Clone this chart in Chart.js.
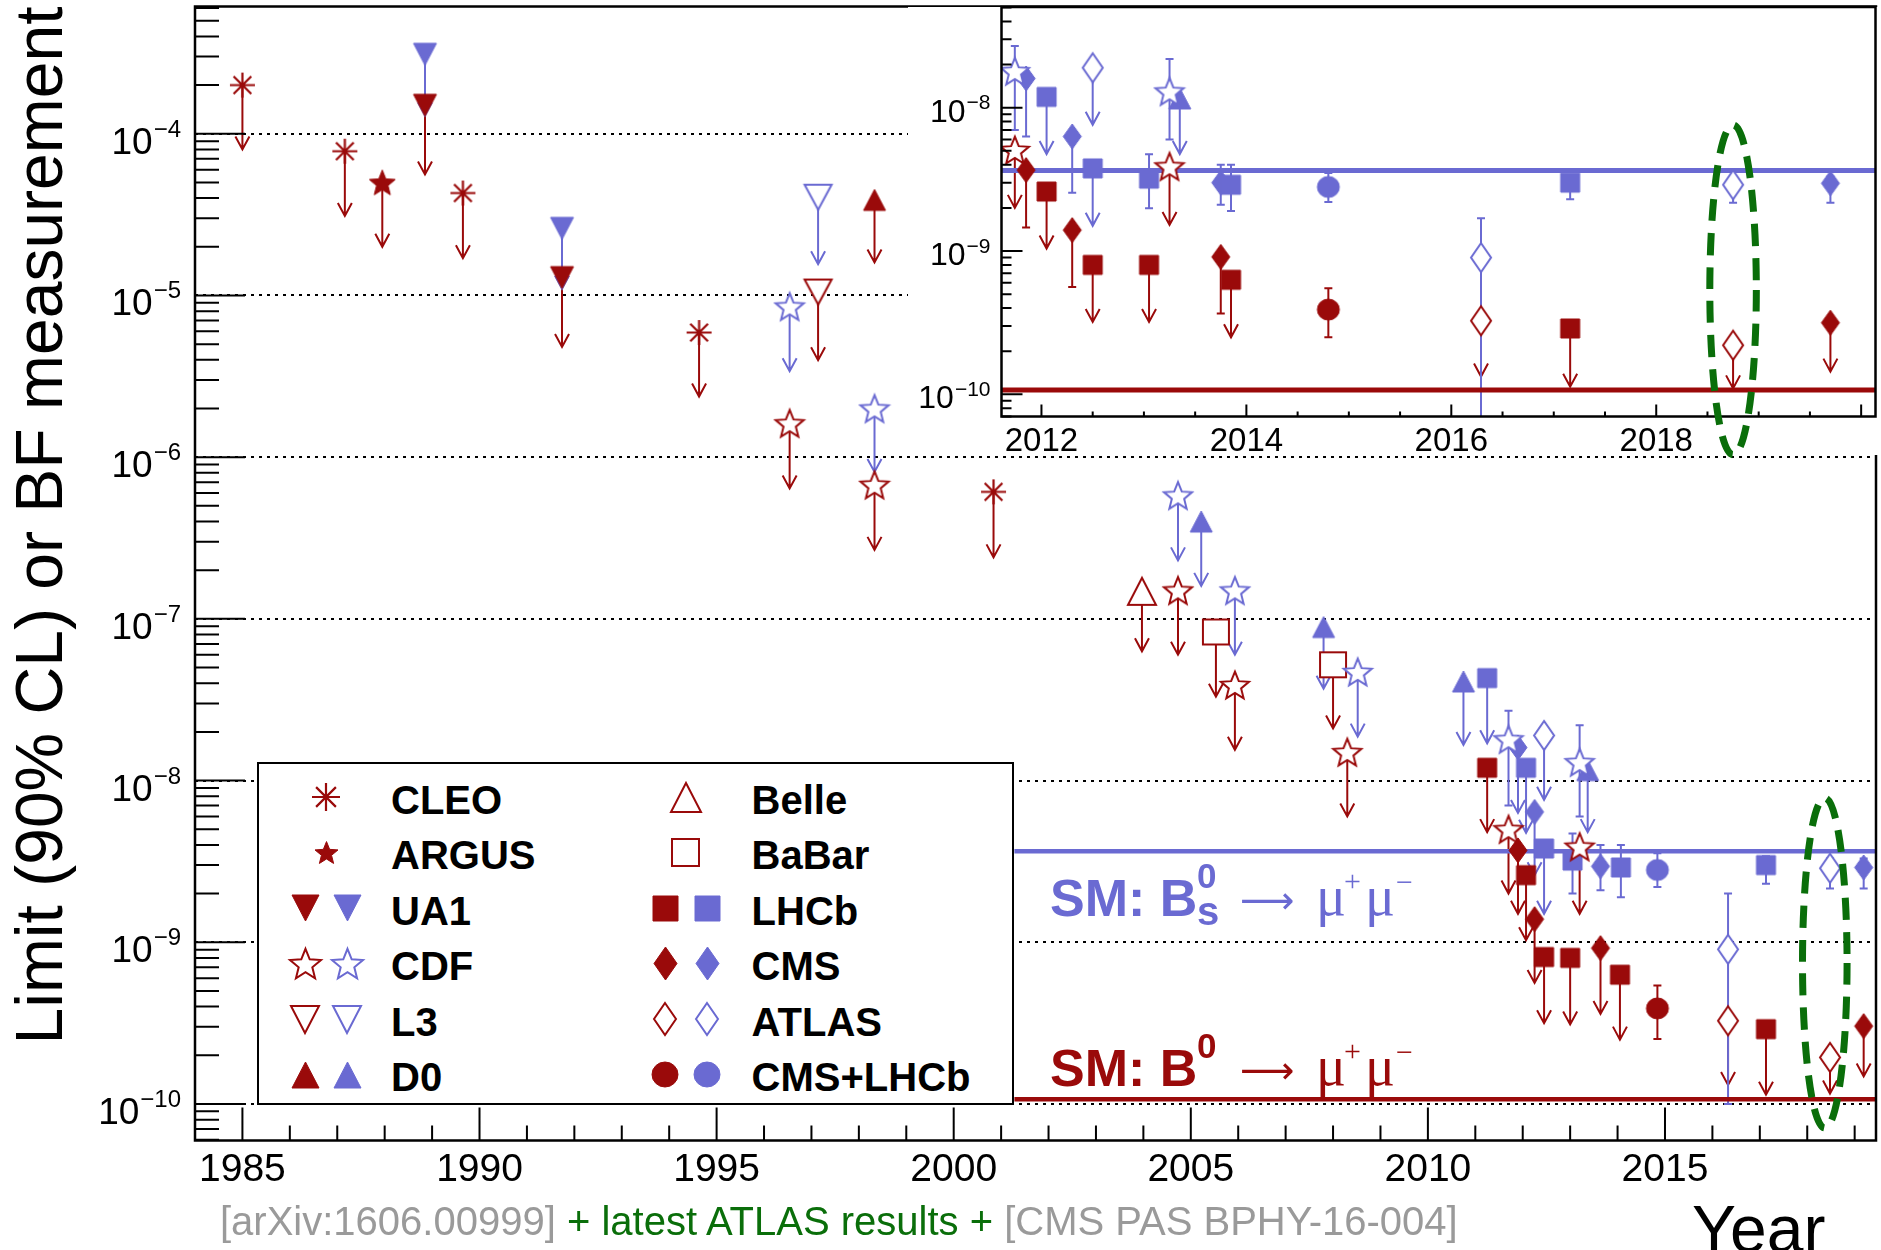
<!DOCTYPE html>
<html>
<head>
<meta charset="utf-8">
<title>B(s) to mu mu limits by year</title>
<script src="https://cdn.jsdelivr.net/npm/chart.js"></script>
<style>
  body { margin: 0; background: #fff; }
  #wrap { position: relative; width: 1881px; height: 1250px; overflow: hidden; background: #fff; }
  #wrap canvas { position: absolute; top: 0; }
  #main { left: 0; z-index: 0; }
  #inset { left: 908px; z-index: 1; }
  #legend { position: absolute; left: 257px; top: 762px; width: 757px; height: 343px; box-sizing: border-box;
            border: 2px solid #000; background: #fff; z-index: 2; }
  .t { position: absolute; line-height: 1; white-space: nowrap; z-index: 3; }
  #wrap canvas.mk { z-index: 3; }
</style>
</head>
<body>
<div id="wrap">
  <canvas id="main" width="1881" height="1250"></canvas>
  <canvas id="inset" width="973" height="470"></canvas>
  <div id="legend"></div>
</div>
<script>
// ---- data ----
// limits: [year, limit, arrow end]   measurements: [year, value, low, high]
const yearTicks = [1985, 1990, 1995, 2000, 2005, 2010, 2015];
const decadeTicks = [1e-10, 1e-9, 1e-8, 1e-7, 1e-6, 1e-5, 1e-4];
const smBs = 3.65e-9;
const smB0 = 1.07e-10;

const cleoB0 = [[1985.0, 2.0e-4, 8.0e-5], [1987.16, 7.8e-5, 3.1e-5], [1989.65, 4.3e-5, 1.7e-5],
                [1994.63, 5.9e-6, 2.37e-6], [2000.84, 6.1e-7, 2.4e-7]];
const argusB0 = [[1987.95, 5.0e-5, 2.0e-5]];
const ua1Bs = [[1988.85, 3.1e-4, 1.3e-4], [1991.74, 2.6e-5, 1.1e-5]];
const ua1B0 = [[1988.85, 1.5e-4, 5.6e-5], [1991.74, 1.29e-5, 4.8e-6]];
const cdfBs = [[1996.54, 8.55e-6, 3.4e-6], [1998.33, 2.0e-6, 8.1e-7], [2004.73, 5.8e-7, 2.3e-7],
               [2005.93, 1.5e-7, 6.0e-8], [2008.52, 4.7e-8, 1.87e-8],
               [2011.7, 1.8e-8, 7.0e-9, 2.7e-8], [2013.2, 1.3e-8, 6.0e-9, 2.2e-8]];
const cdfB0 = [[1996.54, 1.62e-6, 6.4e-7], [1998.33, 6.75e-7, 2.67e-7], [2004.73, 1.5e-7, 6.0e-8],
               [2005.93, 3.9e-8, 1.55e-8], [2008.3, 1.5e-8, 6.0e-9], [2011.7, 5.0e-9, 2.0e-9],
               [2013.2, 3.9e-9, 1.5e-9]];
const l3Bs = [[1997.14, 4.05e-5, 1.56e-5]];
const l3B0 = [[1997.14, 1.05e-5, 3.98e-6]];
const d0Bs = [[2005.22, 4.0e-7, 1.6e-7], [2007.8, 8.9e-8, 3.7e-8], [2010.75, 4.1e-8, 1.66e-8],
              [2013.37, 1.16e-8, 4.8e-9]];
const d0B0 = [[1998.33, 3.9e-5, 1.6e-5]];
const belleB0 = [[2003.97, 1.48e-7, 6.3e-8]];
const babarB0 = [[2005.53, 8.3e-8, 3.3e-8], [2008.0, 5.2e-8, 2.1e-8]];
const lhcbBs = [[2011.25, 4.3e-8, 1.7e-8], [2012.07, 1.2e-8, 4.75e-9], [2012.45, 3.8e-9, 1.5e-9],
                [2013.05, 3.2e-9, 2.0e-9, 4.7e-9], [2014.07, 2.9e-9, 1.9e-9, 4.0e-9],
                [2017.13, 3.0e-9, 2.3e-9, 3.4e-9]];
const lhcbB0 = [[2011.25, 1.2e-8, 4.8e-9], [2012.07, 2.6e-9, 1.03e-9], [2012.45, 8.1e-10, 3.16e-10],
                [2013.0, 8.0e-10, 3.1e-10], [2014.05, 6.3e-10, 2.5e-10], [2017.13, 2.9e-10, 1.14e-10]];
const cmsBs = [[2011.9, 1.6e-8, 6.3e-9], [2012.25, 6.4e-9, 2.6e-9], [2013.64, 2.95e-9, 2.1e-9, 4.0e-9],
               [2019.19, 2.9e-9, 2.15e-9, 3.3e-9]];
const cmsB0 = [[2011.9, 3.7e-9, 1.5e-9], [2012.25, 1.39e-9, 5.6e-10], [2013.64, 9.2e-10, 3.6e-10],
               [2019.19, 3.03e-10, 1.48e-10]];
const atlasBs = [[2012.45, 1.9e-8, 7.6e-9], [2016.33, 9.05e-10, 1.0e-10, 2.0e-9],
                 [2018.48, 2.87e-9, 2.15e-9, 3.3e-9]];
const atlasB0 = [[2016.33, 3.27e-10, 1.31e-10], [2018.48, 1.94e-10, 1.16e-10]];
const comboBs = [[2014.84, 2.8e-9, 2.2e-9, 3.55e-9]];
const comboB0 = [[2014.84, 3.9e-10, 2.52e-10, 5.4e-10]];
// latest-results ellipse: [year, half width (years), top, bottom]
const mainRing = [2018.37, 0.47, 7.8e-9, 7.1e-11];

// inset (2012 onwards)
const insetYearTicks = [2012, 2014, 2016, 2018];
const insetDecades = [1e-10, 1e-9, 1e-8];
const insCdfBs = [[2011.74, 1.8e-8, 7.0e-9, 2.7e-8], [2013.25, 1.3e-8, 6.0e-9, 2.19e-8]];
const insCdfB0 = [[2011.74, 5.07e-9, 2.0e-9], [2013.25, 3.9e-9, 1.52e-9]];
const insCmsBs = [[2011.85, 1.6e-8, 6.3e-9, 1.6e-8], [2012.3, 6.3e-9, 2.55e-9, 6.3e-9],
                  [2013.75, 3.0e-9, 2.1e-9, 4.0e-9], [2019.7, 2.97e-9, 2.17e-9, 3.3e-9]];
const insCmsB0 = [[2011.85, 3.67e-9, 1.46e-9, 3.67e-9], [2012.3, 1.4e-9, 5.6e-10, 1.4e-9],
                  [2013.75, 9.1e-10, 3.67e-10, 9.1e-10], [2019.7, 3.16e-10, 1.44e-10]];
const insLhcbBs = [[2012.05, 1.19e-8, 4.75e-9], [2012.5, 3.77e-9, 1.5e-9], [2013.05, 3.2e-9, 1.99e-9, 4.73e-9],
                   [2013.85, 2.9e-9, 1.9e-9, 4.0e-9], [2017.16, 3.0e-9, 2.3e-9, 3.3e-9]];
const insLhcbB0 = [[2012.05, 2.6e-9, 1.04e-9], [2012.5, 8.0e-10, 3.2e-10], [2013.05, 8.0e-10, 3.2e-10],
                   [2013.85, 6.3e-10, 2.5e-10], [2017.16, 2.88e-10, 1.13e-10]];
const insAtlasBs = [[2012.5, 1.9e-8, 7.6e-9], [2016.29, 9.0e-10, 5.0e-11, 1.69e-9], [2018.75, 2.9e-9, 2.17e-9, 3.3e-9]];
const insAtlasB0 = [[2016.29, 3.26e-10, 1.33e-10], [2018.75, 2.2e-10, 1.1e-10]];
const insD0Bs = [[2013.35, 1.16e-8, 4.75e-9]];
const insComboBs = [[2014.8, 2.8e-9, 2.2e-9, 3.5e-9]];
const insComboB0 = [[2014.8, 3.9e-10, 2.5e-10, 5.5e-10]];
const insetRing = [2018.75, 0.227, 7.57e-9, 3.78e-11];

const legendLeft = ['CLEO', 'ARGUS', 'UA1', 'CDF', 'L3', 'D0'];
const legendRight = ['Belle', 'BaBar', 'LHCb', 'CMS', 'ATLAS', 'CMS+LHCb'];

// ---- styles ----
const RED = '#9a0a0a', BLUE = '#6a6ad2', GREEN = '#0a6e0a', GREY = '#9a9a9a';
const SANS = "'Liberation Sans', Arial, Helvetica, sans-serif";
const SERIF = "'Liberation Serif', 'Times New Roman', serif";
const ARROWFONT = "'DejaVu Sans', sans-serif";
Chart.defaults.font.family = SANS;
Chart.defaults.color = '#000';

const MK = {
  asterisk: { shape: 'asterisk', w: 25, h: 25 },
  starFill: { shape: 'star', w: 26, h: 26 },
  starOpen: { shape: 'star', w: 28, h: 28, open: true },
  triDown: { shape: 'triDown', w: 23, h: 22 },
  triDownOpen: { shape: 'triDown', w: 27, h: 25, open: true },
  triUp: { shape: 'triUp', w: 22, h: 21 },
  triUpOpen: { shape: 'triUp', w: 28, h: 27, open: true },
  square: { shape: 'square', w: 19, h: 19 },
  squareOpen: { shape: 'square', w: 26, h: 25, open: true },
  diamond: { shape: 'diamond', w: 18, h: 25 },
  diamondOpen: { shape: 'diamond', w: 20, h: 29, open: true },
  circle: { shape: 'circle', w: 22, h: 21 }
};
const LEG = {
  asterisk: { shape: 'asterisk', w: 28, h: 28 },
  starFill: { shape: 'star', w: 23, h: 23 },
  triDown: { shape: 'triDown', w: 27, h: 26 },
  starOpen: { shape: 'star', w: 31, h: 31, open: true },
  triDownOpen: { shape: 'triDown', w: 28, h: 27, open: true },
  triUp: { shape: 'triUp', w: 27, h: 26 },
  triUpOpen: { shape: 'triUp', w: 30, h: 29, open: true },
  squareOpen: { shape: 'square', w: 27, h: 27, open: true },
  square: { shape: 'square', w: 25, h: 25 },
  diamond: { shape: 'diamond', w: 23, h: 33 },
  diamondOpen: { shape: 'diamond', w: 22, h: 32, open: true },
  circle: { shape: 'circle', w: 26, h: 25 }
};

function makeMarker(mk, color) {
  const pad = 3;
  const c = document.createElement('canvas');
  c.width = Math.round(mk.w + 2 * pad);
  c.height = Math.round(mk.h + 2 * pad);
  const g = c.getContext('2d');
  const cx = c.width / 2, cy = c.height / 2, w = mk.w, h = mk.h;
  g.strokeStyle = color;
  g.fillStyle = mk.open ? '#fff' : color;
  g.lineWidth = mk.open ? 2 : 1;
  g.beginPath();
  if (mk.shape === 'asterisk') {
    g.lineWidth = 2.2;
    for (let i = 0; i < 4; i++) {
      const a = i * Math.PI / 4;
      g.moveTo(cx - w / 2 * Math.cos(a), cy - h / 2 * Math.sin(a));
      g.lineTo(cx + w / 2 * Math.cos(a), cy + h / 2 * Math.sin(a));
    }
    g.stroke();
    return c;
  }
  if (mk.shape === 'star') {
    const R = w / 1.902, r = R * 0.44;
    const oy = cy + (R - 0.809 * R) / 2;
    for (let i = 0; i < 10; i++) {
      const a = -Math.PI / 2 + i * Math.PI / 5;
      const rr = i % 2 ? r : R;
      g.lineTo(cx + rr * Math.cos(a), oy + rr * Math.sin(a));
    }
  } else if (mk.shape === 'triUp') {
    g.moveTo(cx, cy - h / 2); g.lineTo(cx + w / 2, cy + h / 2); g.lineTo(cx - w / 2, cy + h / 2);
  } else if (mk.shape === 'triDown') {
    g.moveTo(cx, cy + h / 2); g.lineTo(cx + w / 2, cy - h / 2); g.lineTo(cx - w / 2, cy - h / 2);
  } else if (mk.shape === 'square') {
    g.rect(cx - w / 2, cy - h / 2, w, h);
  } else if (mk.shape === 'diamond') {
    g.moveTo(cx, cy - h / 2); g.lineTo(cx + w / 2, cy); g.lineTo(cx, cy + h / 2); g.lineTo(cx - w / 2, cy);
  } else if (mk.shape === 'circle') {
    g.ellipse(cx, cy, w / 2, h / 2, 0, 0, Math.PI * 2);
  }
  g.closePath();
  g.fill();
  g.stroke();
  return c;
}

function series(label, rows, mk, color) {
  return {
    type: 'scatter',
    label: label,
    data: rows.map(r => r.length === 3 ? { x: r[0], y: r[1], tip: r[2] } : { x: r[0], y: r[1], lo: r[2], hi: r[3] }),
    pointStyle: makeMarker(mk, color),
    pointRadius: 10,
    borderColor: color,
    backgroundColor: color,
    order: 1
  };
}

function smLine(v, x0, x1, color, width) {
  return { type: 'line', label: 'SM', data: [{ x: x0, y: v }, { x: x1, y: v }], borderColor: color,
           borderWidth: width, pointRadius: 0, showLine: true, order: 5 };
}

// arrows for limits, error bars for measurements
const barsPlugin = {
  id: 'limitBars',
  beforeDatasetsDraw(chart) {
    const { ctx, chartArea: a, scales: { x, y } } = chart;
    ctx.save();
    ctx.beginPath();
    ctx.rect(a.left, a.top, a.right - a.left, a.bottom - a.top);
    ctx.clip();
    ctx.lineWidth = 2;
    for (const ds of chart.data.datasets) {
      if (ds.type === 'line') continue;
      ctx.strokeStyle = ds.borderColor;
      for (const p of ds.data) {
        const px = x.getPixelForValue(p.x), py = y.getPixelForValue(p.y);
        ctx.beginPath();
        if (p.tip !== undefined) {
          const pt = y.getPixelForValue(p.tip);
          ctx.moveTo(px, py); ctx.lineTo(px, pt);
          ctx.moveTo(px - 7, pt - 13); ctx.lineTo(px, pt); ctx.lineTo(px + 7, pt - 13);
        } else {
          const pl = y.getPixelForValue(p.lo), ph = y.getPixelForValue(p.hi);
          ctx.moveTo(px, pl); ctx.lineTo(px, ph);
          if (p.lo < p.y) { ctx.moveTo(px - 4, pl); ctx.lineTo(px + 4, pl); }
          if (p.hi > p.y) { ctx.moveTo(px - 4, ph); ctx.lineTo(px + 4, ph); }
        }
        ctx.stroke();
      }
    }
    ctx.restore();
  }
};

// inward ticks, frame and 10^n labels, ROOT style
function axesPlugin(cfg) {
  return {
    id: 'rootAxes',
    afterDraw(chart) {
      const { ctx, chartArea: a, scales: { x, y } } = chart;
      ctx.save();
      ctx.strokeStyle = '#000';
      ctx.lineWidth = 2;
      ctx.beginPath();
      const lo = Math.floor(Math.log10(y.min)), hi = Math.ceil(Math.log10(y.max));
      for (let d = lo; d <= hi; d++) {
        for (let k = 1; k <= 9; k++) {
          const v = k * Math.pow(10, d);
          if (v < y.min || v > y.max) continue;
          const py = y.getPixelForValue(v);
          ctx.moveTo(a.left, py);
          ctx.lineTo(a.left + (k === 1 ? cfg.yMajor : cfg.yMinor), py);
        }
      }
      for (let t = Math.ceil(x.min / cfg.xStep) * cfg.xStep; t <= x.max; t += cfg.xStep) {
        const px = x.getPixelForValue(t);
        const q = t / cfg.xEvery;
        const major = Math.abs(q - Math.round(q)) < 1e-6;
        ctx.moveTo(px, a.bottom);
        ctx.lineTo(px, a.bottom - (major ? cfg.xMajor : cfg.xMinor));
      }
      ctx.stroke();
      ctx.lineWidth = 2.5;
      ctx.strokeRect(a.left, a.top, a.right - a.left, a.bottom - a.top);

      // decade labels: "10" with a raised exponent
      ctx.fillStyle = '#000';
      ctx.textAlign = 'right';
      ctx.textBaseline = 'alphabetic';
      for (const v of cfg.labels) {
        const py = y.getPixelForValue(v);
        const ex = '\u2212' + Math.abs(Math.round(Math.log10(v)));
        ctx.font = cfg.expSize + 'px ' + SANS;
        const ew = ctx.measureText(ex).width;
        ctx.fillText(ex, a.left - cfg.gap, py + cfg.expDy);
        ctx.font = cfg.baseSize + 'px ' + SANS;
        ctx.fillText('10', a.left - cfg.gap - ew - 1, py + cfg.baseDy);
      }
      ctx.restore();
    }
  };
}

function ringPlugin(ring) {
  return {
    id: 'ring',
    afterDraw(chart) {
      const { ctx, scales: { x, y } } = chart;
      const cx = x.getPixelForValue(ring[0]);
      const rx = Math.abs(x.getPixelForValue(ring[0] + ring[1]) - cx);
      const yt = y.getPixelForValue(ring[2]), yb = y.getPixelForValue(ring[3]);
      ctx.save();
      ctx.strokeStyle = GREEN;
      ctx.lineWidth = 7;
      ctx.setLineDash([22, 12]);
      ctx.beginPath();
      ctx.ellipse(cx, (yt + yb) / 2, rx, (yb - yt) / 2, 0, 0, Math.PI * 2);
      ctx.stroke();
      ctx.restore();
    }
  };
}

function tenTo(v) {
  return '10^' + Math.round(Math.log10(v));
}

// ---- main chart ----
new Chart(document.getElementById('main'), {
  type: 'scatter',
  data: {
    datasets: [
      series('CLEO', cleoB0, MK.asterisk, RED),
      series('ARGUS', argusB0, MK.starFill, RED),
      series('UA1 B0', ua1B0, MK.triDown, RED),
      series('UA1 Bs', ua1Bs, MK.triDown, BLUE),
      series('CDF B0', cdfB0, MK.starOpen, RED),
      series('CDF Bs', cdfBs, MK.starOpen, BLUE),
      series('L3 B0', l3B0, MK.triDownOpen, RED),
      series('L3 Bs', l3Bs, MK.triDownOpen, BLUE),
      series('D0 B0', d0B0, MK.triUp, RED),
      series('D0 Bs', d0Bs, MK.triUp, BLUE),
      series('Belle', belleB0, MK.triUpOpen, RED),
      series('BaBar', babarB0, MK.squareOpen, RED),
      series('LHCb B0', lhcbB0, MK.square, RED),
      series('LHCb Bs', lhcbBs, MK.square, BLUE),
      series('CMS B0', cmsB0, MK.diamond, RED),
      series('CMS Bs', cmsBs, MK.diamond, BLUE),
      series('ATLAS B0', atlasB0, MK.diamondOpen, RED),
      series('ATLAS Bs', atlasBs, MK.diamondOpen, BLUE),
      series('CMS+LHCb B0', comboB0, MK.circle, RED),
      series('CMS+LHCb Bs', comboBs, MK.circle, BLUE),
      smLine(smBs, 2001.28, 2019.45, BLUE, 4.5),
      smLine(smB0, 2001.28, 2019.45, RED, 4.5)
    ]
  },
  options: {
    responsive: false,
    animation: false,
    devicePixelRatio: 1,
    events: [],
    layout: { autoPadding: false, padding: { left: 0, top: 6.5, right: 5, bottom: 0 } },
    plugins: { legend: { display: false }, tooltip: { enabled: false } },
    scales: {
      x: {
        type: 'linear',
        min: 1984,
        max: 2019.45,
        afterBuildTicks: s => { s.ticks = yearTicks.map(v => ({ value: v })); },
        afterFit: s => { s.height = 109.5; s.paddingLeft = 0; s.paddingRight = 0; },
        ticks: { callback: v => String(v), font: { size: 39 }, padding: 6, autoSkip: false, maxRotation: 0 },
        grid: { display: false, drawTicks: false },
        border: { display: false }
      },
      y: {
        type: 'logarithmic',
        min: Math.pow(10, -10.226),
        max: Math.pow(10, -3.213),
        afterBuildTicks: s => { s.ticks = decadeTicks.map(v => ({ value: v })); },
        afterFit: s => { s.width = 195; s.paddingTop = 0; s.paddingBottom = 0; },
        ticks: { display: false, callback: v => tenTo(v) },
        grid: { color: '#000', lineWidth: 2, drawTicks: false },
        border: { display: false, dash: [3, 5] },
        title: { display: true, text: 'Limit (90% CL) or BF measurement', align: 'end',
                 font: { size: 66 }, padding: { top: 4, bottom: 0 } }
      }
    }
  },
  plugins: [barsPlugin,
            axesPlugin({ yMajor: 50, yMinor: 24, xStep: 1, xEvery: 5, xMajor: 33, xMinor: 15,
                         labels: decadeTicks, baseSize: 37, expSize: 24, baseDy: 20, expDy: 3, gap: 14 }),
            ringPlugin(mainRing)]
});

// ---- inset chart ----
const padPlugin = {
  id: 'pad',
  beforeDraw(chart) {
    const ctx = chart.ctx;
    ctx.save();
    ctx.fillStyle = '#fff';
    ctx.fillRect(0, 7, chart.width, 448);
    ctx.restore();
  }
};

new Chart(document.getElementById('inset'), {
  type: 'scatter',
  data: {
    datasets: [
      series('CDF B0', insCdfB0, MK.starOpen, RED),
      series('CDF Bs', insCdfBs, MK.starOpen, BLUE),
      series('D0 Bs', insD0Bs, MK.triUp, BLUE),
      series('LHCb B0', insLhcbB0, MK.square, RED),
      series('LHCb Bs', insLhcbBs, MK.square, BLUE),
      series('CMS B0', insCmsB0, MK.diamond, RED),
      series('CMS Bs', insCmsBs, MK.diamond, BLUE),
      series('ATLAS B0', insAtlasB0, MK.diamondOpen, RED),
      series('ATLAS Bs', insAtlasBs, MK.diamondOpen, BLUE),
      series('CMS+LHCb B0', insComboB0, MK.circle, RED),
      series('CMS+LHCb Bs', insComboBs, MK.circle, BLUE),
      smLine(smBs, 2011.61, 2020.14, BLUE, 5),
      smLine(smB0, 2011.61, 2020.14, RED, 5)
    ]
  },
  options: {
    responsive: false,
    animation: false,
    devicePixelRatio: 1,
    events: [],
    layout: { autoPadding: false, padding: { left: 0, top: 7, right: 5.5, bottom: 0 } },
    plugins: { legend: { display: false }, tooltip: { enabled: false } },
    scales: {
      x: {
        type: 'linear',
        min: 2011.61,
        max: 2020.14,
        afterBuildTicks: s => { s.ticks = insetYearTicks.map(v => ({ value: v })); },
        afterFit: s => { s.height = 53.5; s.paddingLeft = 0; s.paddingRight = 0; },
        ticks: { callback: v => String(v), font: { size: 33 }, padding: 6, autoSkip: false, maxRotation: 0 },
        grid: { display: false, drawTicks: false },
        border: { display: false }
      },
      y: {
        type: 'logarithmic',
        min: Math.pow(10, -10.155),
        max: Math.pow(10, -7.297),
        afterBuildTicks: s => { s.ticks = insetDecades.map(v => ({ value: v })); },
        afterFit: s => { s.width = 93.5; s.paddingTop = 0; s.paddingBottom = 0; },
        ticks: { display: false, callback: v => tenTo(v) },
        grid: { display: false, drawTicks: false },
        border: { display: false }
      }
    }
  },
  plugins: [padPlugin, barsPlugin,
            axesPlugin({ yMajor: 21, yMinor: 10, xStep: 0.5, xEvery: 2, xMajor: 12, xMinor: 5,
                         labels: insetDecades, baseSize: 32, expSize: 21, baseDy: 14, expDy: 1.5, gap: 11 }),
            ringPlugin(insetRing)]
});

// ---- text and legend overlays ----
const wrap = document.getElementById('wrap');
function txt(str, x, base, size, weight, family, color) {
  const d = document.createElement('div');
  d.className = 't';
  d.textContent = str;
  d.style.left = x + 'px';
  d.style.top = (base - 0.845 * size) + 'px';
  d.style.font = weight + ' ' + size + 'px ' + family;
  d.style.color = color;
  wrap.appendChild(d);
  return d;
}
function putMarker(mk, color, cx, cy) {
  const c = makeMarker(mk, color);
  c.className = 'mk';
  c.style.left = (cx - c.width / 2) + 'px';
  c.style.top = (cy - c.height / 2) + 'px';
  wrap.appendChild(c);
}

const leftMarks = ['asterisk', 'starFill', 'triDown', 'starOpen', 'triDownOpen', 'triUp'];
const rightMarks = ['triUpOpen', 'squareOpen', 'square', 'diamond', 'diamondOpen', 'circle'];
for (let i = 0; i < 6; i++) {
  const cy = 797 + i * 55.55;
  if (i < 2) {
    putMarker(LEG[leftMarks[i]], RED, 326, cy);
    putMarker(LEG[rightMarks[i]], RED, 685.6, cy);
  } else {
    putMarker(LEG[leftMarks[i]], RED, 305, cy);
    putMarker(LEG[leftMarks[i]], BLUE, 347, cy);
    putMarker(LEG[rightMarks[i]], RED, 665, cy);
    putMarker(LEG[rightMarks[i]], BLUE, 707, cy);
  }
  txt(legendLeft[i], 391, cy + 14.5, 40, 'bold', SANS, '#000');
  txt(legendRight[i], 751.6, cy + 14.5, 40, 'bold', SANS, '#000');
}

function smLabel(base, color, sub) {
  txt('SM: B', 1050, base, 52, 'bold', SANS, color);
  txt('0', 1197, base - 26, 35, 'bold', SANS, color);
  if (sub) txt('s', 1197, base + 11, 40, 'bold', SANS, color);
  txt('\u27f6', 1240, base - 2, 38, 'normal', ARROWFONT, color);
  txt('\u03bc', 1316, base, 56, 'normal', SERIF, color);
  txt('+', 1344, base - 22, 30, 'normal', SERIF, color);
  txt('\u03bc', 1365, base, 56, 'normal', SERIF, color);
  txt('\u2212', 1396, base - 21, 30, 'normal', SERIF, color);
}
smLabel(911.7, BLUE, true);
smLabel(1081.7, RED, false);

const cite = txt('', 220, 1232.6, 40, 'normal', SANS, GREY);
cite.innerHTML = '[arXiv:1606.00999] <span style="color:' + GREEN + '">+ latest ATLAS results +</span> [CMS PAS BPHY-16-004]';
txt('Year', 1692, 1247, 66, 'normal', SANS, '#000');
</script>
</body>
</html>
